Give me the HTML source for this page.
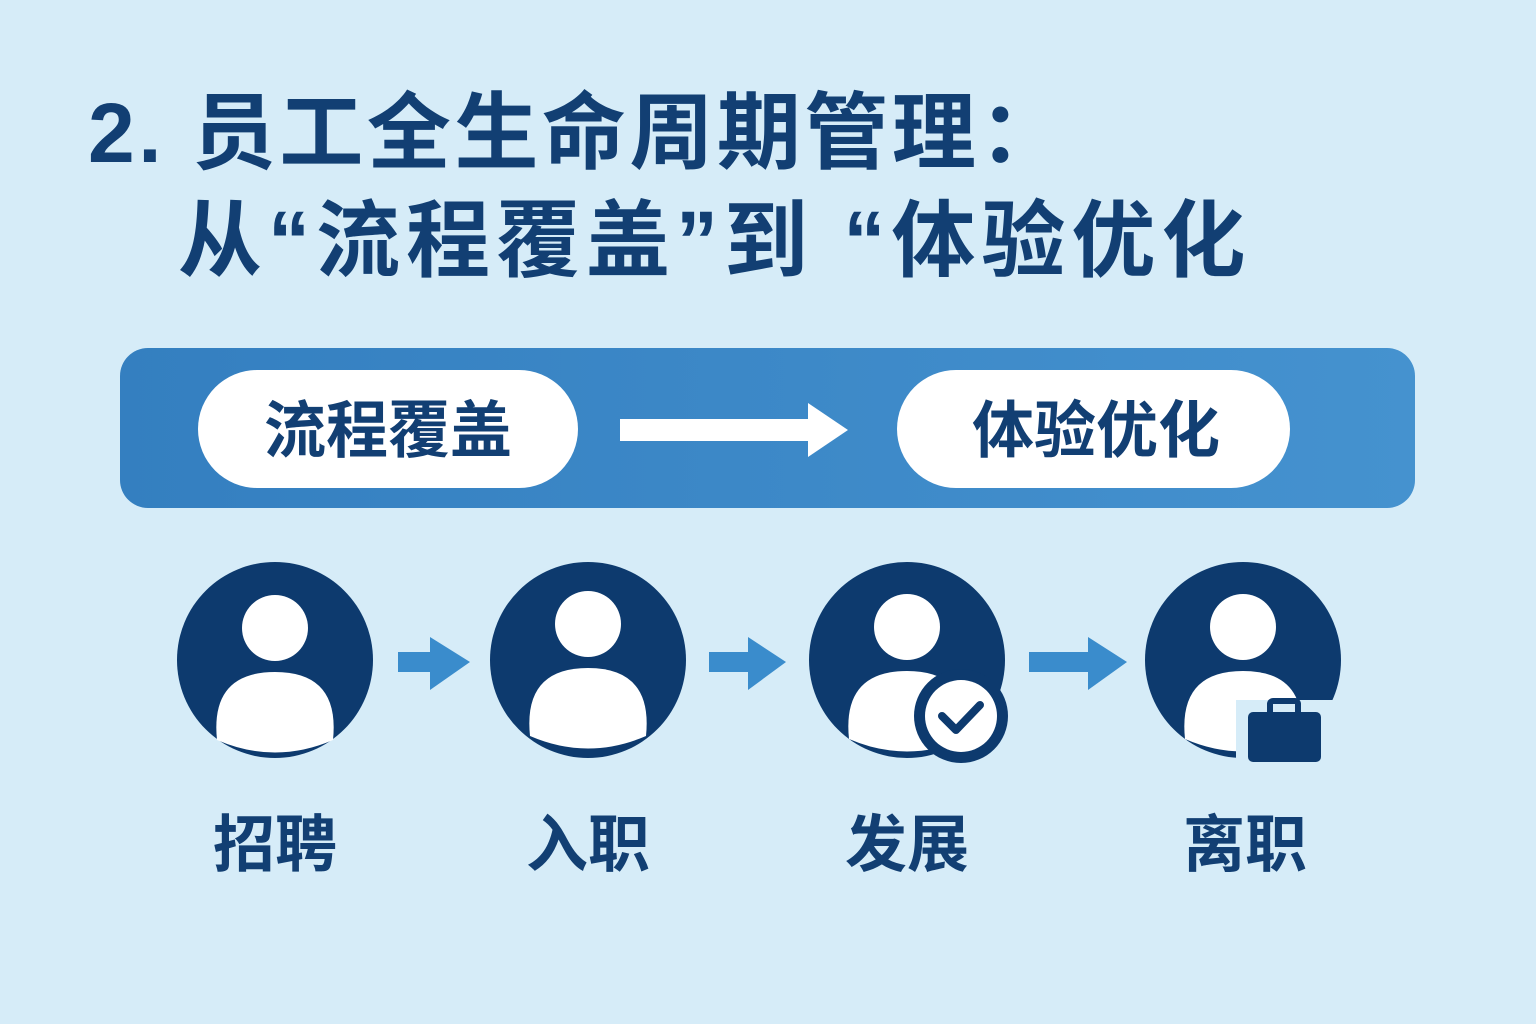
<!DOCTYPE html>
<html><head><meta charset="utf-8"><style>
body{margin:0;width:1536px;height:1024px;background:#d6ecf8;overflow:hidden;font-family:"Liberation Sans","Noto Sans CJK SC",sans-serif;}
.t{position:absolute;color:#123f73;font-weight:bold;white-space:nowrap;}
</style></head><body>
<div class="t" style="left:88px;top:66px;font-size:84px;letter-spacing:3.5px">2. 员工全生命周期管理：</div>
<div class="t" style="left:178px;top:174px;font-size:84px;letter-spacing:6px">从“流程覆盖”到 “体验优化</div>
<svg width="1536" height="1024" style="position:absolute;left:0;top:0">
<defs><linearGradient id="g" x1="0" x2="1"><stop offset="0" stop-color="#347fc0"/><stop offset="1" stop-color="#4592cf"/></linearGradient></defs>
<rect x="120" y="348" width="1295" height="160" rx="28" fill="url(#g)"/>
<rect x="198" y="370" width="380" height="118" rx="59" fill="#fff"/>
<rect x="897" y="370" width="393" height="118" rx="59" fill="#fff"/>
<text x="388" y="452" font-size="62" font-weight="bold" fill="#123f73" text-anchor="middle" font-family="Noto Sans CJK SC">流程覆盖</text>
<text x="1096" y="452" font-size="62" font-weight="bold" fill="#123f73" text-anchor="middle" font-family="Noto Sans CJK SC">体验优化</text>
<rect x="620" y="419" width="195" height="22" fill="#fff"/>
<polygon points="808,403 848,430 808,457" fill="#fff"/>
<g fill="#3a8ccc">
<rect x="398" y="652" width="40" height="20"/><polygon points="430,637 470,662 430,690"/>
<rect x="709" y="652" width="45" height="20"/><polygon points="748,637 786,662 748,690"/>
<rect x="1029" y="652" width="65" height="20"/><polygon points="1088,637 1127,662 1088,690"/>
</g>
<g fill="#0d3a6e">
<circle cx="275" cy="660" r="98"/><circle cx="588" cy="660" r="98"/><circle cx="907" cy="660" r="98"/><circle cx="1243" cy="660" r="98"/>
</g>
<g fill="#fff">
<circle cx="275" cy="628" r="33"/><path d="M217 740 Q210 672 275 672 Q340 672 333 740 Q275 765 217 740Z"/>
<circle cx="588" cy="624" r="33"/><path d="M530 736 Q523 668 588 668 Q653 668 646 736 Q588 761 530 736Z"/>
<circle cx="907" cy="627" r="33"/><path d="M849 739 Q842 671 907 671 Q972 671 965 739 Q907 764 849 739Z"/>
<circle cx="1243" cy="627" r="33"/><path d="M1185 739 Q1178 671 1243 671 Q1308 671 1301 739 Q1243 764 1185 739Z"/>
</g>
<circle cx="961" cy="716" r="47" fill="#0d3a6e"/><circle cx="961" cy="716" r="36" fill="#fff"/>
<polyline points="942,716 956,730 980,705" fill="none" stroke="#0d3a6e" stroke-width="8" stroke-linecap="round" stroke-linejoin="round"/>
<rect x="1236" y="700" width="100" height="70" fill="#d6ecf8"/>
<rect x="1248" y="712" width="73" height="50" rx="5" fill="#0d3a6e"/>
<rect x="1270" y="701" width="28" height="16" rx="3" fill="none" stroke="#0d3a6e" stroke-width="6"/>
<g font-size="62" font-weight="bold" fill="#123f73" text-anchor="middle" font-family="Noto Sans CJK SC">
<text x="275" y="866">招聘</text><text x="588" y="866">入职</text><text x="907" y="866">发展</text><text x="1245" y="866">离职</text>
</g>
</svg>
</body></html>
